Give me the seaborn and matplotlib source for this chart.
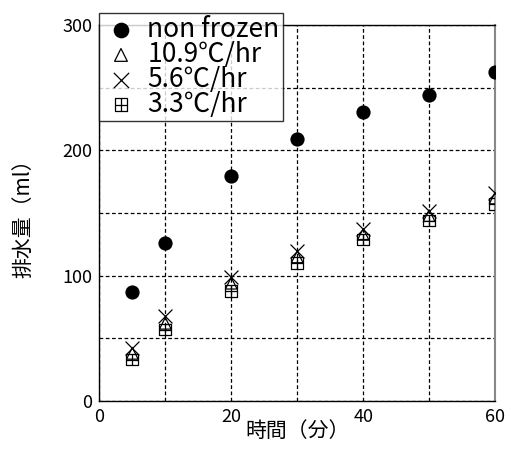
import matplotlib
matplotlib.use('Agg')
import matplotlib.pyplot as plt
import seaborn as sns
from matplotlib.path import Path

# data
minutes = [5, 10, 20, 30, 40, 50, 60]
non_frozen = [87, 126, 180, 209, 231, 244, 263]
rate_10_9 = [38, 62, 94, 115, 133, 148, 162]
rate_5_6 = [42, 68, 99, 120, 137, 152, 166]
rate_3_3 = [33, 57, 88, 110, 129, 144, 157]
labels = ['non frozen', '10.9℃/hr', '5.6℃/hr', '3.3℃/hr']

sns.set_theme(style='white')
plt.rcParams['font.family'] = ['Noto Sans CJK JP', 'DejaVu Sans']
plt.rcParams['text.color'] = 'black'
plt.rcParams['axes.labelcolor'] = 'black'

# square with a plus inside (the 3.3 marker)
box_plus = Path(
    [(-1, -1), (1, -1), (1, 1), (-1, 1), (-1, -1), (0, -1), (0, 1), (-1, 0), (1, 0)],
    [Path.MOVETO, Path.LINETO, Path.LINETO, Path.LINETO, Path.CLOSEPOLY,
     Path.MOVETO, Path.LINETO, Path.MOVETO, Path.LINETO])

fig = plt.figure(figsize=(5.12, 4.5), dpi=100)
ax = fig.add_axes([0.194, 0.109, 0.773, 0.835])

series = [non_frozen, rate_10_9, rate_5_6, rate_3_3]
markers = ['o', '^', 'x', box_plus]
sizes = [105, 70, 100, 70]
for vals, lab, mk, sz in zip(series, labels, markers, sizes):
    if mk == 'o':
        sns.scatterplot(x=minutes, y=vals, marker=mk, s=sz, color='black',
                        linewidth=0, label=lab, ax=ax, zorder=3)
    elif mk == 'x':
        sns.scatterplot(x=minutes, y=vals, marker=mk, s=sz, color='black',
                        linewidth=0.9, label=lab, ax=ax, zorder=3)
    else:
        sns.scatterplot(x=minutes, y=vals, marker=mk, s=sz, facecolor='none',
                        edgecolor='black', linewidth=0.9, label=lab, ax=ax, zorder=3)

ax.set_xlim(0, 60)
ax.set_ylim(0, 300)
ax.set_xticks([0, 20, 40, 60])
ax.set_yticks([0, 100, 200, 300])
ax.set_xticks(range(0, 61, 10), minor=True)
ax.set_yticks(range(0, 301, 50), minor=True)
ax.grid(True, which='both', linestyle=(0, (3, 2)), color='black', linewidth=0.9)
ax.tick_params(which='both', length=0, labelsize=13, pad=5, colors='black')
for sp in ax.spines.values():
    sp.set_color('black')
    sp.set_linewidth(1.0)
ax.spines['right'].set_color('#888888')
ax.spines['right'].set_linewidth(1.5)

ax.set_xlabel('時間（分）', fontsize=15, labelpad=-4)
ax.set_ylabel('排水量（ml）', fontsize=15, labelpad=20)

leg = ax.legend(loc='upper left', bbox_to_anchor=(0, 1.033), borderaxespad=0,
                fontsize=19, frameon=True, fancybox=False, edgecolor='black',
                handletextpad=0.3, labelspacing=-0.08, borderpad=0.12,
                handlelength=1.4, markerscale=1.1)
leg.get_frame().set_linewidth(1.0)
leg.set_zorder(5)

fig.savefig('out.png', dpi=100)
